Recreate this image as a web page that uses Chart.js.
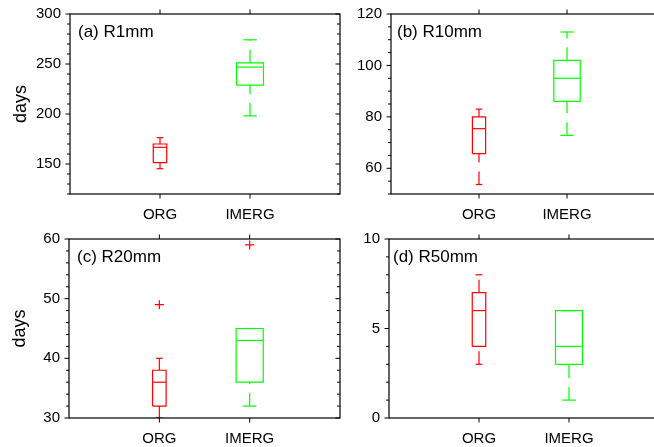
<!DOCTYPE html>
<html>
<head>
<meta charset="utf-8">
<script src="https://cdn.jsdelivr.net/npm/chart.js@4/dist/chart.umd.min.js"></script>
<style>
html,body{margin:0;padding:0;background:#fff;overflow:hidden;width:654px;height:447px;position:relative;}
canvas{position:absolute;left:0;top:0;width:670px;height:447px;}
</style>
</head>
<body>
<canvas id="pa" width="670" height="447"></canvas>
<canvas id="pb" width="670" height="447"></canvas>
<canvas id="pc" width="670" height="447"></canvas>
<canvas id="pd" width="670" height="447"></canvas>
<script>
// ---------------- data ----------------
const categories = ['ORG', 'IMERG'];
// each box: [lower whisker, Q1, median, Q3, upper whisker]
const r1mmORG    = [145.3, 151.3, 166.7, 170.0, 176.4];
const r1mmIMERG  = [198.1, 228.9, 246.9, 251.2, 274.2];
const r10mmORG   = [53.7, 65.7, 75.4, 80.0, 83.0];
const r10mmIMERG = [72.8, 86.0, 95.0, 102.0, 113.0];
const r20mmORG   = [30, 32, 36, 38, 40];
const r20mmIMERG = [32, 36, 43, 45, 45];
const r20mmOutliersORG   = [49];
const r20mmOutliersIMERG = [59];
const r50mmORG   = [3, 4, 6, 7, 8];
const r50mmIMERG = [1, 3, 4, 6, 6];
const r1mmTicks  = [150, 200, 250, 300];
const r10mmTicks = [60, 80, 100, 120];
const r20mmTicks = [30, 40, 50, 60];
const r50mmTicks = [0, 5, 10];
const panelTitles = ['(a) R1mm', '(b) R10mm', '(c) R20mm', '(d) R50mm'];
const yTitle = 'days';

// ---------------- style ----------------
const RED = '#ff0000', GREEN = '#00ff00';
const OUTLIER = '#ff0000';
const FONT = '"Liberation Sans", Arial, Helvetica, sans-serif';
const CW = 670, CH = 447, AXW = 60, XAH = 30;
const DASH = [13, 9];
const LW = 1.2;

function boxDatasets(stats, x, color, halfW) {
  const [lo, q1, med, q3, hi] = stats;
  const capW = halfW / 2;
  const seg = (pts, dash) => ({
    data: pts, borderColor: color, backgroundColor: color, borderWidth: LW,
    showLine: true, pointRadius: 0, fill: false, borderDash: dash || [], tension: 0
  });
  return [
    seg([{x: x - halfW, y: q1}, {x: x + halfW, y: q1}, {x: x + halfW, y: q3}, {x: x - halfW, y: q3}, {x: x - halfW, y: q1}]),
    seg([{x: x - halfW, y: med}, {x: x + halfW, y: med}]),
    seg([{x: x - capW, y: lo}, {x: x + capW, y: lo}]),
    seg([{x: x - capW, y: hi}, {x: x + capW, y: hi}]),
    seg([{x: x, y: lo}, {x: x, y: q1}], DASH),
    seg([{x: x, y: q3}, {x: x, y: hi}], DASH)
  ];
}
function outlierDataset(values, x) {
  return {
    data: values.map(v => ({x: x, y: v})), showLine: false,
    pointStyle: 'cross', pointRadius: 4.5, borderColor: OUTLIER, backgroundColor: OUTLIER,
    borderWidth: LW
  };
}

const framePlugin = {
  id: 'frame',
  afterDatasetsDraw(chart) {
    const p = chart.options.plugins.frame;
    const {ctx, chartArea: a, scales: {x, y}} = chart;
    ctx.save();
    ctx.strokeStyle = '#000';
    ctx.lineWidth = 1.2;
    ctx.strokeRect(a.left, a.top, a.right - a.left, a.bottom - a.top);
    ctx.lineWidth = 1;
    ctx.beginPath();
    const n = Math.round((y.max - y.min) / p.minorStep);
    for (let i = 0; i <= n; i++) {
      const v = y.min + i * p.minorStep;
      const major = p.majorTicks.some(t => Math.abs(t - v) < 1e-9);
      const len = major ? 4.5 : 3;
      const py = y.getPixelForValue(v);
      ctx.moveTo(a.left - len, py); ctx.lineTo(a.left, py);
      if (p.rightTicks) { ctx.moveTo(a.right - len, py); ctx.lineTo(a.right, py); }
    }
    [1, 2].forEach(t => {
      const px = x.getPixelForValue(t);
      ctx.moveTo(px, a.top - 4.5); ctx.lineTo(px, a.top);
      ctx.moveTo(px, a.bottom); ctx.lineTo(px, a.bottom + 4.5);
    });
    ctx.stroke();
    ctx.font = '17px ' + FONT;
    ctx.fillStyle = '#000';
    ctx.textAlign = 'left';
    ctx.textBaseline = 'alphabetic';
    ctx.fillText(p.title, a.left + p.titleDx, a.top + 22.5);
    ctx.restore();
  }
};

function makeChart(id, cfg) {
  const datasets = [
    ...boxDatasets(cfg.org, 1, RED, 0.075),
    ...boxDatasets(cfg.imerg, 2, GREEN, 0.15)
  ];
  if (cfg.outOrg) datasets.push(outlierDataset(cfg.outOrg, 1));
  if (cfg.outImerg) datasets.push(outlierDataset(cfg.outImerg, 2));
  const gridOpts = {display: true, drawOnChartArea: false, drawTicks: true, tickLength: 4, color: 'rgba(0,0,0,0)'};
  new Chart(document.getElementById(id), {
    type: 'scatter',
    data: {datasets},
    options: {
      responsive: false, animation: false, events: [],
      layout: {padding: {left: cfg.L - AXW, top: cfg.T, right: CW - cfg.R, bottom: CH - cfg.B - XAH}},
      plugins: {
        legend: {display: false}, tooltip: {enabled: false},
        frame: {title: cfg.title, titleDx: cfg.titleDx, minorStep: cfg.minorStep, majorTicks: cfg.ticks,
                rightTicks: cfg.rightTicks}
      },
      scales: {
        x: {
          type: 'linear', min: 0, max: 3,
          afterFit: s => { s.height = XAH; },
          afterBuildTicks: s => { s.ticks = [{value: 1}, {value: 2}]; },
          ticks: {callback: v => categories[Math.round(v) - 1], font: {family: FONT, size: 15}, color: '#000',
                  padding: 8, maxRotation: 0, autoSkip: false},
          grid: gridOpts, border: {display: false}
        },
        y: {
          type: 'linear', min: cfg.min, max: cfg.max,
          afterFit: s => { s.width = AXW; },
          afterBuildTicks: s => { s.ticks = cfg.ticks.map(v => ({value: v})); },
          ticks: {font: {family: FONT, size: 15}, color: '#000', padding: 5, autoSkip: false},
          grid: gridOpts, border: {display: false},
          title: {display: cfg.showTitle, text: yTitle, font: {family: FONT, size: 18}, color: '#000', padding: 0}
        }
      }
    },
    plugins: [framePlugin]
  });
}

makeChart('pa', {org: r1mmORG, imerg: r1mmIMERG, ticks: r1mmTicks, min: 120, max: 300, minorStep: 10,
  title: panelTitles[0], titleDx: 8, showTitle: true, rightTicks: true, L: 70, T: 14, R: 340, B: 194});
makeChart('pb', {org: r10mmORG, imerg: r10mmIMERG, ticks: r10mmTicks, min: 50, max: 120, minorStep: 5,
  title: panelTitles[1], titleDx: 6, showTitle: false, rightTicks: false, L: 391, T: 14, R: 655, B: 194});
makeChart('pc', {org: r20mmORG, imerg: r20mmIMERG, outOrg: r20mmOutliersORG, outImerg: r20mmOutliersIMERG,
  ticks: r20mmTicks, min: 30, max: 60, minorStep: 2,
  title: panelTitles[2], titleDx: 8, showTitle: true, rightTicks: true, L: 69, T: 239, R: 340, B: 418});
makeChart('pd', {org: r50mmORG, imerg: r50mmIMERG, ticks: r50mmTicks, min: 0, max: 10, minorStep: 1,
  title: panelTitles[3], titleDx: 4, showTitle: false, rightTicks: false, L: 389, T: 239, R: 659, B: 418});
</script>
</body>
</html>
